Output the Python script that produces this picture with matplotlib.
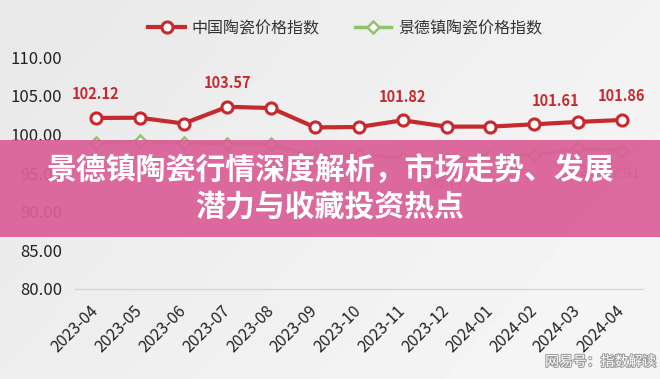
import matplotlib.pyplot as plt
import matplotlib.patheffects as pe
import numpy as np

plt.rcParams['font.family'] = ['Noto Sans CJK SC', 'DejaVu Sans']

# data
months = ['2023-04', '2023-05', '2023-06', '2023-07', '2023-08', '2023-09', '2023-10',
          '2023-11', '2023-12', '2024-01', '2024-02', '2024-03', '2024-04']
china = [102.12, 102.15, 101.4, 103.57, 103.4, 100.9, 100.95,
         101.82, 101.0, 101.0, 101.3, 101.61, 101.86]
jdz = [98.9, 99.1, 98.9, 98.8, 98.7, 97.2, 97.3,
       97.0, 96.77, 97.2, 97.3, 98.2, 97.91]
china_labeled = [0, 3, 7, 11, 12]
jdz_labeled = [8, 11, 12]
yticks = [80, 85, 90, 95, 100, 105, 110]
title = '景德镇陶瓷行情深度解析，市场走势、发展\n潜力与收藏投资热点'

red = '#c62a2f'
green = '#8cc56a'

# label nudges (points) so neighbouring labels don't collide
nudge = {11: (-16, 15)}

fig = plt.figure(figsize=(6.6, 3.79), dpi=100)
fig.patch.set_facecolor('#ededed')

# soft background gradient
bg = fig.add_axes([0, 0, 1, 1], zorder=-5)
gx, gy = np.meshgrid(np.linspace(0, 1, 200), np.linspace(0, 1, 120))
grad = 0.91 + 0.05 * np.clip(gx * 0.8 + gy * 0.4, 0, 1)
bg.imshow(grad, cmap='gray', vmin=0, vmax=1, aspect='auto', extent=[0, 1, 0, 1])
bg.axis('off')

ax = fig.add_axes([0.1136, 0.2375, 0.8604, 0.612])
ax.set_facecolor('none')
x = np.arange(len(months))

ax.plot(x, china, color=red, lw=3, marker='o', ms=8, mfc='white', mec=red, mew=2.2,
        label='中国陶瓷价格指数', zorder=3)
ax.plot(x, jdz, color=green, lw=2.5, marker='D', ms=6.5, mfc='white', mec=green, mew=1.8,
        label='景德镇陶瓷价格指数', zorder=3)

for i in china_labeled:
    ax.annotate(f'{china[i]:.2f}', (x[i], china[i]), xytext=nudge.get(i, (0, 17)),
                textcoords='offset points', ha='center', va='center', fontsize=10.5,
                fontweight='bold', color=red)
for i in jdz_labeled:
    ax.annotate(f'{jdz[i]:.2f}', (x[i], jdz[i]), xytext=(0, -17), textcoords='offset points',
                ha='center', va='center', fontsize=10.5, color='#6b7f60')

ax.set_ylim(80, 110)
ax.set_xlim(-0.48, len(months) - 0.52)
ax.set_yticks(yticks)
ax.set_yticklabels([f'{v:.2f}' for v in yticks], fontsize=12, color='#222222')
ax.set_xticks(x)
ax.set_xticklabels(months, rotation=45, ha='right', va='center', rotation_mode='anchor',
                   fontsize=11.5, color='#222222')
ax.tick_params(axis='both', length=0)
ax.tick_params(axis='y', pad=9)
ax.tick_params(axis='x', pad=14)
for s in ['top', 'right', 'left']:
    ax.spines[s].set_visible(False)
ax.spines['bottom'].set_color('#d6d6d6')
ax.spines['bottom'].set_linewidth(1)

fig.legend(loc='upper center', bbox_to_anchor=(0.523, 0.985), ncol=2, frameon=False,
           fontsize=11.5, handlelength=2.3, columnspacing=2.2, handletextpad=0.4,
           labelcolor='#333333')

# pink title band over the chart
band = fig.add_axes([0, 1 - 237 / 379, 1, 97 / 379], zorder=10)
band.set_facecolor('#db5f98')
band.patch.set_alpha(0.93)
band.set_xticks([])
band.set_yticks([])
for s in band.spines.values():
    s.set_visible(False)
band.text(0.5, 0.5, title, ha='center', va='center', fontsize=21.5, fontweight='bold',
          color='white', linespacing=1.25, transform=band.transAxes)

fig.text(0.91, 0.045, '网易号：指数解读', ha='center', va='center', fontsize=10, color='white',
         path_effects=[pe.withStroke(linewidth=1.5, foreground='#9a9a9a')], zorder=20)

fig.savefig('out.png', dpi=100, facecolor=fig.get_facecolor())
